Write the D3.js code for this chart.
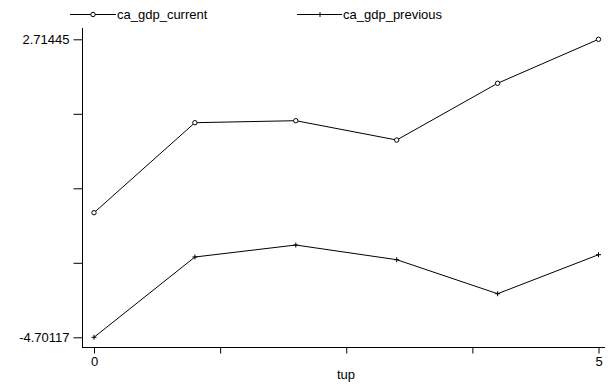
<!DOCTYPE html>
<html><head><meta charset="utf-8">
<script src="https://cdn.jsdelivr.net/npm/d3@7"></script>
<style>body{margin:0;background:#fff}svg{display:block}text{font-family:"Liberation Sans",Arial,sans-serif;font-size:13px;fill:#000}</style>
</head><body>
<script>
const tup = [0, 1, 2, 3, 4, 5];
const caGdpCurrent = [-1.601, 0.639, 0.689, 0.208, 1.620, 2.71445];
const caGdpPrevious = [-4.70117, -2.703, -2.405, -2.770, -3.617, -2.646];
const seriesNames = ["ca_gdp_current", "ca_gdp_previous"];
const yTickLabels = ["2.71445", "", "", "", "-4.70117"];
const xTicks = [0, 1.25, 2.5, 3.75, 5];
const xTickLabels = ["0", "", "", "", "5"];

const W = 609, H = 390;
const svg = d3.select("body").append("svg").attr("width", W).attr("height", H);
const x = d3.scaleLinear().domain([0, 5]).range([94, 598.5]);
const yMax = 2.71445, yMin = -4.70117;
const y = d3.scaleLinear().domain([yMin, yMax]).range([337.3, 39.3]);
const yTicks = d3.range(5).map(i => yMax - i * (yMax - yMin) / 4);

// axes lines
svg.append("line").attr("x1", 82.5).attr("x2", 82.5).attr("y1", 28).attr("y2", 348).attr("stroke", "#000");
svg.append("line").attr("x1", 82).attr("x2", 605).attr("y1", 347.5).attr("y2", 347.5).attr("stroke", "#000");

const yAxis = d3.axisLeft(y).tickValues(yTicks).tickSize(9).tickPadding(4)
  .tickFormat((d, i) => yTickLabels[i]);
const gy = svg.append("g").attr("transform", "translate(82.5,0)").call(yAxis);
gy.select(".domain").remove();
gy.selectAll("text").style("font-size", "13px").attr("font-family", null);

const xAxis = d3.axisBottom(x).tickValues(xTicks).tickSize(6).tickPadding(3)
  .tickFormat((d, i) => xTickLabels[i]);
const gx = svg.append("g").attr("transform", "translate(0,347.5)").call(xAxis);
gx.select(".domain").remove();
gx.selectAll("text").style("font-size", "13px").attr("font-family", null);

svg.append("text").attr("x", 346).attr("y", 379).attr("text-anchor", "middle").text("tup");

const line = d3.line().x((d, i) => x(tup[i])).y(d => y(d));
svg.append("path").datum(caGdpCurrent).attr("d", line).attr("fill", "none").attr("stroke", "#000").attr("stroke-width", 1);
svg.append("path").datum(caGdpPrevious).attr("d", line).attr("fill", "none").attr("stroke", "#000").attr("stroke-width", 1);

svg.selectAll("circle.m").data(caGdpCurrent).enter().append("circle")
  .attr("cx", (d, i) => x(tup[i])).attr("cy", d => y(d)).attr("r", 2.2)
  .attr("fill", "#fff").attr("stroke", "#000").attr("stroke-width", 1);

const plus = (g, cx, cy) => {
  g.append("path").attr("d", `M${cx-2.5},${cy}H${cx+2.5}M${cx},${cy-2.5}V${cy+2.5}`).attr("stroke", "#000").attr("stroke-width", 1);
};
const gp = svg.append("g");
caGdpPrevious.forEach((d, i) => plus(gp, x(tup[i]), y(d)));

// legend
const ly = 14.5;
svg.append("line").attr("x1", 70).attr("x2", 116).attr("y1", ly).attr("y2", ly).attr("stroke", "#000");
svg.append("circle").attr("cx", 93).attr("cy", ly).attr("r", 2.2).attr("fill", "#fff").attr("stroke", "#000");
svg.append("text").attr("x", 117).attr("y", ly + 4.5).text(seriesNames[0]);
svg.append("line").attr("x1", 297).attr("x2", 342).attr("y1", ly).attr("y2", ly).attr("stroke", "#000");
plus(svg, 320, ly);
svg.append("text").attr("x", 343).attr("y", ly + 4.5).text(seriesNames[1]);
</script>
</body></html>
